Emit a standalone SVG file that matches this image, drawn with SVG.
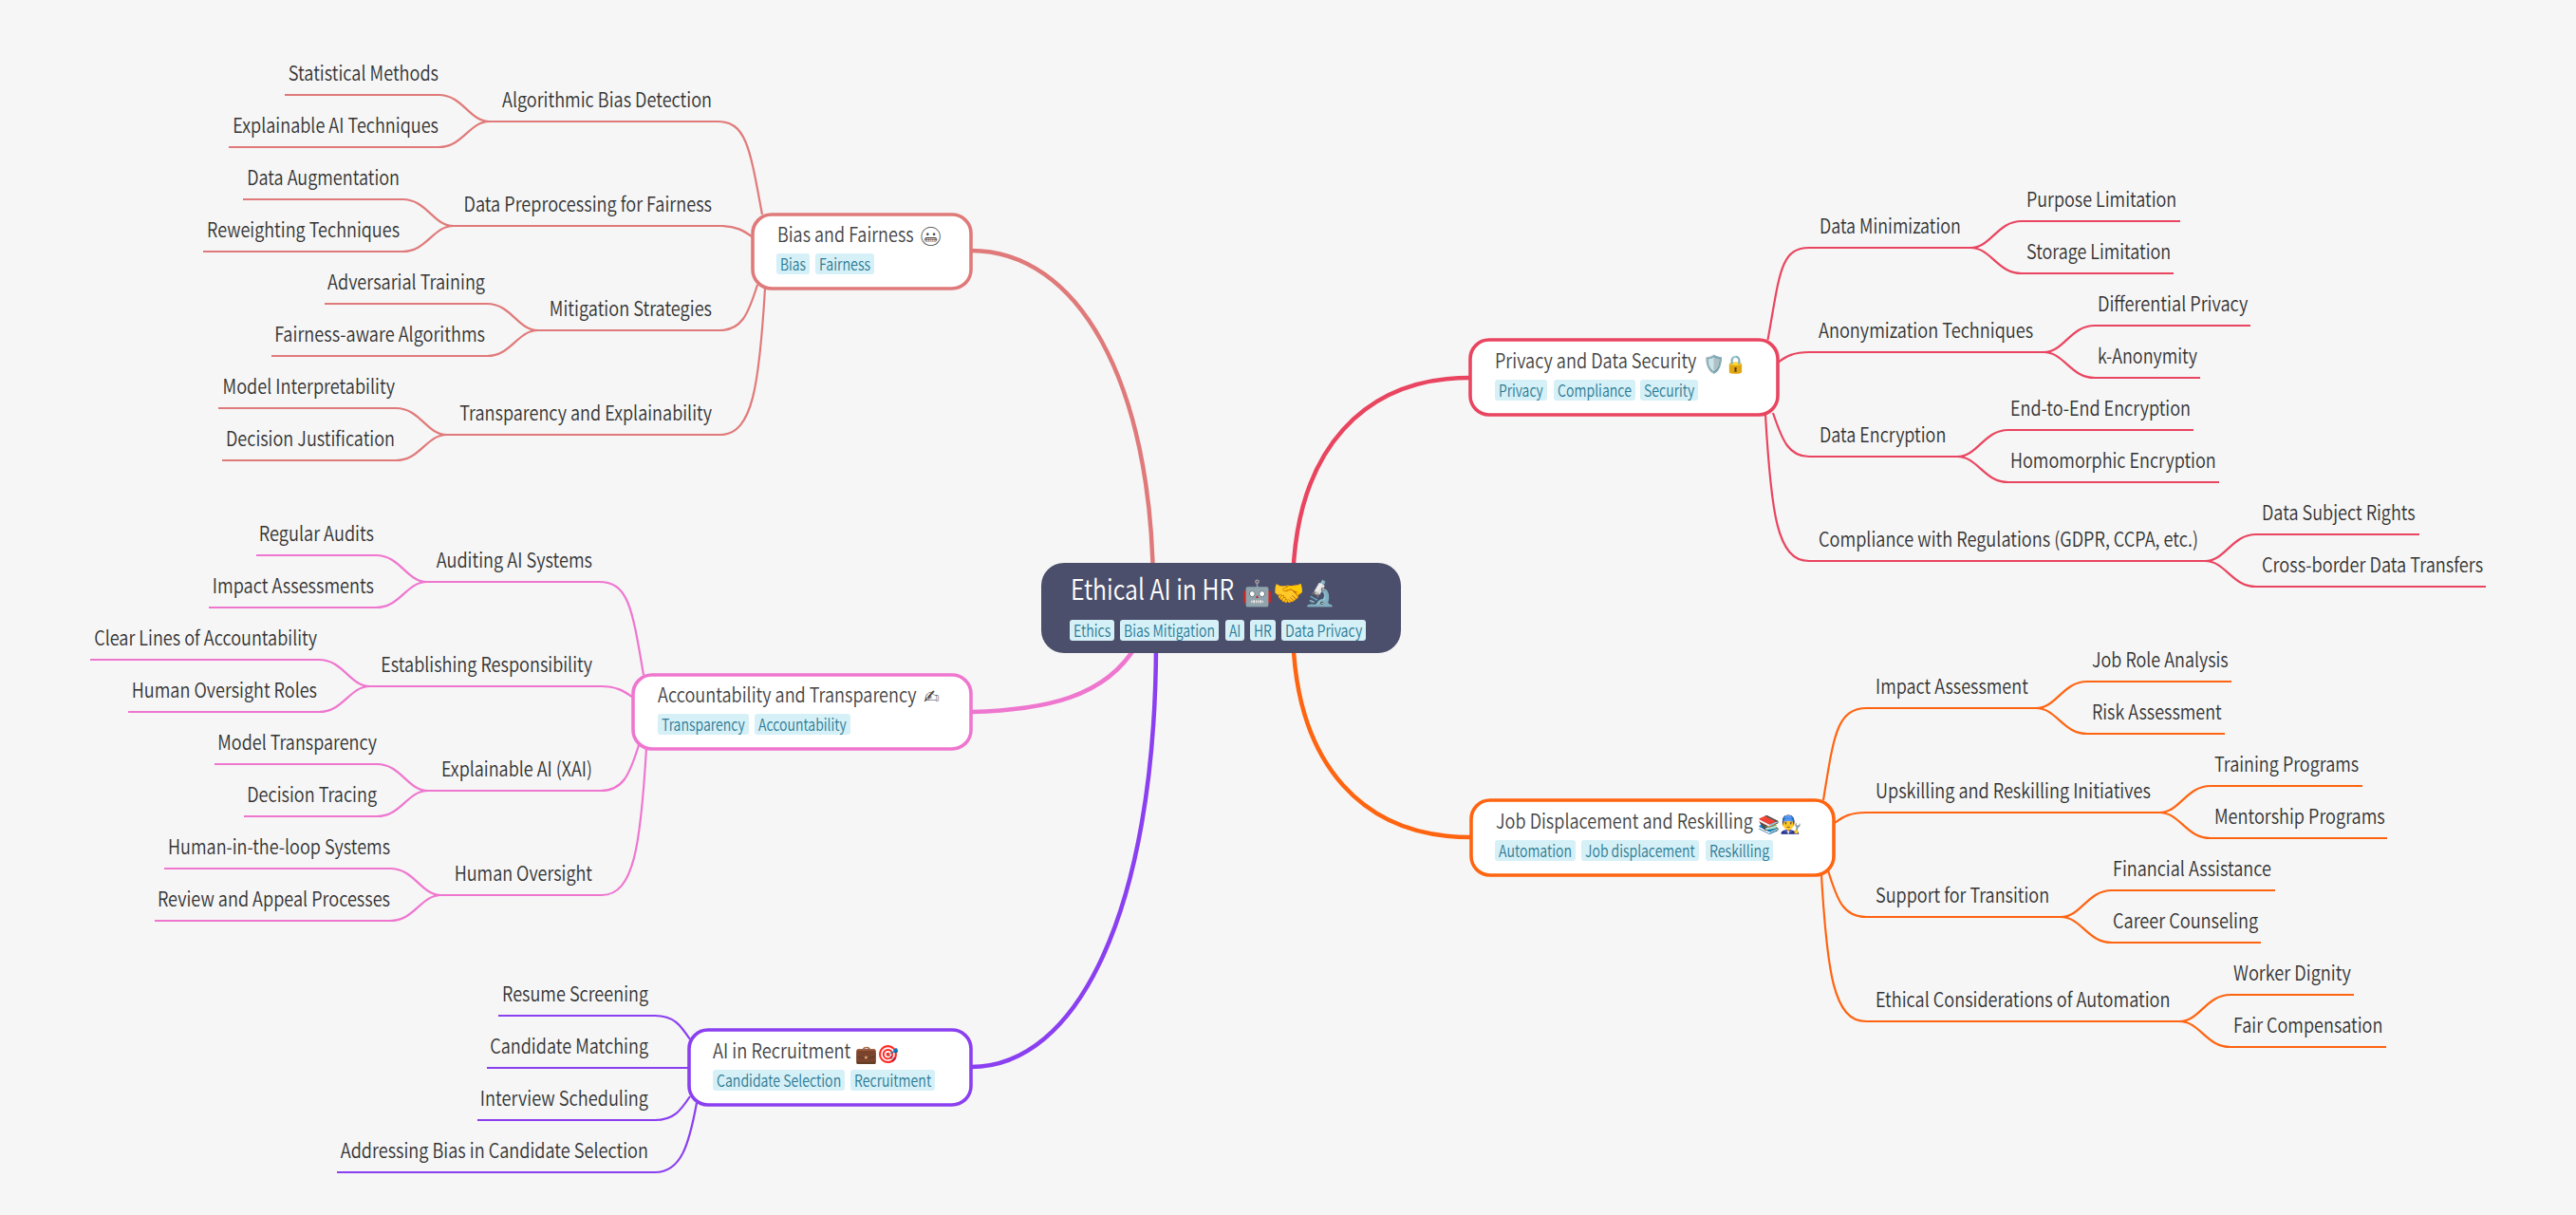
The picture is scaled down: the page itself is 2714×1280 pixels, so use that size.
<svg xmlns="http://www.w3.org/2000/svg" width="2714" height="1280" viewBox="0 0 2714 1280">
<style>
text{font-family:"Noto Sans CJK SC","Noto Sans",sans-serif;}
.t{font-size:21px;fill:#333;font-weight:350;}
.e{text-anchor:end;}
.h{font-size:21px;fill:#444;font-weight:350;}
.rt{font-size:30px;fill:#fff;font-weight:350;}
.tag{fill:#d6f0f7;}
.tt{font-size:17px;fill:#2a7a94;font-weight:350;}
.n{fill:#fff;stroke-width:3.6;}
path{fill:none;}
.l1{stroke-width:4.5;}
.l2{stroke-width:2.2;}
.em{font-size:18.500px;}
.mono{font-family:"DejaVu Sans",sans-serif;font-size:20px;fill:#444;}
.bi{stroke:#e07a7a;} .pr{stroke:#e94560;} .jo{stroke:#ff6411;} .ac{stroke:#ef76cf;} .re{stroke:#8a3ff0;}
</style>
<rect width="2714" height="1280" fill="#f6f6f6"/>
<g id="connectors">
<path class="l1 bi" d="M1023 264C1135 264 1214 400 1215 620"/>
<path class="l1 pr" d="M1549 398C1440 398 1363 470 1362 620"/>
<path class="l1 jo" d="M1549 882C1440 882 1363 810 1362 660"/>
<path class="l1 ac" d="M1023 750C1100 748 1165 735 1197 680"/>
<path class="l1 re" d="M1023 1124C1135 1124 1217 960 1218 680"/>

<g class="l2 pr">
<path d="M1862.500 358C1875 290 1875 261 1906 261L2076 261"/>
<path d="M1873 382C1882 375 1890 371 1906 371L2153 371"/>
<path d="M1868 435C1878 465 1885 481 1906 481L2062 481"/>
<path d="M1860 437C1866 540 1872 591 1906 591L2323 591"/>
<path d="M2076 261C2098 261 2104 233 2130 233L2297 233"/>
<path d="M2076 261C2098 261 2104 288 2130 288L2290 288"/>
<path d="M2153 371C2175 371 2181 343 2207 343L2371 343"/>
<path d="M2153 371C2175 371 2181 398 2207 398L2318 398"/>
<path d="M2062 481C2084 481 2090 453 2116 453L2311 453"/>
<path d="M2062 481C2084 481 2090 508 2116 508L2338 508"/>
<path d="M2323 591C2345 591 2351 563 2377 563L2549 563"/>
<path d="M2323 591C2345 591 2351 618 2377 618L2619 618"/>
</g>
<g class="l2 jo">
<path d="M1921 843C1932 775 1935 746 1967 746L2145 746"/>
<path d="M1933 867C1942 860 1950 856 1966 856L2275 856"/>
<path d="M1926 917C1936 950 1943 966 1966 966L2171 966"/>
<path d="M1919 922C1925 1025 1932 1076 1966 1076L2296 1076"/>
<path d="M2145 746C2167 746 2173 718 2199 718L2351 718"/>
<path d="M2145 746C2167 746 2173 773 2199 773L2344 773"/>
<path d="M2275 856C2297 856 2303 828 2329 828L2489 828"/>
<path d="M2275 856C2297 856 2303 883 2329 883L2515 883"/>
<path d="M2171 966C2193 966 2199 938 2225 938L2397 938"/>
<path d="M2171 966C2193 966 2199 993 2225 993L2382 993"/>
<path d="M2296 1076C2318 1076 2324 1048 2350 1048L2480 1048"/>
<path d="M2296 1076C2318 1076 2324 1103 2350 1103L2514 1103"/>
</g>
<g class="l2 bi">
<path d="M803 226C790 155 786 128 756 128L516 128"/>
<path d="M793 250C784 243 775 238 759 238L478 238"/>
<path d="M798 300C788 332 781 348 758 348L567 348"/>
<path d="M806 304C800 405 793 458 759 458L471 458"/>
<path d="M516 128C494 128 488 100 462 100L300 100"/>
<path d="M516 128C494 128 488 155 462 155L241 155"/>
<path d="M478 238C456 238 450 210 424 210L256 210"/>
<path d="M478 238C456 238 450 265 424 265L214 265"/>
<path d="M567 348C545 348 539 320 513 320L342 320"/>
<path d="M567 348C545 348 539 375 513 375L286 375"/>
<path d="M471 458C449 458 443 430 417 430L230 430"/>
<path d="M471 458C449 458 443 485 417 485L234 485"/>
</g>
<g class="l2 ac">
<path d="M678 711C666 640 662 613 631 613L450 613"/>
<path d="M667 735C658 728 649 723 633 723L390 723"/>
<path d="M673 785C663 817 656 833 633 833L451 833"/>
<path d="M681 788C675 890 668 943 634 943L465 943"/>
<path d="M450 613C428 613 422 585 396 585L270 585"/>
<path d="M450 613C428 613 422 640 396 640L220 640"/>
<path d="M390 723C368 723 362 695 336 695L95 695"/>
<path d="M390 723C368 723 362 750 336 750L135 750"/>
<path d="M451 833C429 833 423 805 397 805L226 805"/>
<path d="M451 833C429 833 423 860 397 860L257 860"/>
<path d="M465 943C443 943 437 915 411 915L173 915"/>
<path d="M465 943C443 943 437 970 411 970L163 970"/>
</g>
<g class="l2 re">
<path d="M727 1095C717 1080 710 1070 690 1070L525 1070"/>
<path d="M727 1125L513 1125"/>
<path d="M727 1155C717 1170 710 1180 690 1180L503 1180"/>
<path d="M734 1162C726 1205 718 1235 690 1235L355 1235"/>
</g>
</g>

<g id="root">
<rect x="1097" y="593" width="379" height="95" rx="24" fill="#4c4f6b"/>
<text class="rt" transform="translate(1128 632) scale(.823 1)" textLength="209" lengthAdjust="spacingAndGlyphs">Ethical AI in HR</text>
<text x="1308" y="634" font-size="26.500">🤖🤝🔬</text>
<rect class="tag" x="1127" y="653" width="47" height="22" rx="3"/><text class="tt" transform="translate(1131 671) scale(.82 1)" textLength="48" lengthAdjust="spacingAndGlyphs">Ethics</text>
<rect class="tag" x="1180" y="653" width="104" height="22" rx="3"/><text class="tt" transform="translate(1184 671) scale(.82 1)" textLength="117" lengthAdjust="spacingAndGlyphs">Bias Mitigation</text>
<rect class="tag" x="1291" y="653" width="20" height="22" rx="3"/><text class="tt" transform="translate(1295 671) scale(.82 1)" textLength="15" lengthAdjust="spacingAndGlyphs">AI</text>
<rect class="tag" x="1317" y="653" width="27" height="22" rx="3"/><text class="tt" transform="translate(1321 671) scale(.82 1)" textLength="23" lengthAdjust="spacingAndGlyphs">HR</text>
<rect class="tag" x="1350" y="653" width="89" height="22" rx="3"/><text class="tt" transform="translate(1354 671) scale(.82 1)" textLength="99" lengthAdjust="spacingAndGlyphs">Data Privacy</text>
</g>

<g id="bias">
<rect class="n bi" x="793" y="226" width="230" height="78" rx="20"/>
<text class="h" transform="translate(819 255) scale(.86 1)" textLength="167" lengthAdjust="spacingAndGlyphs">Bias and Fairness</text>
<text class="mono" x="968" y="256">😬︎</text>
<rect class="tag" x="818" y="267" width="35" height="22" rx="3"/><text class="tt" transform="translate(822 285) scale(.82 1)" textLength="33" lengthAdjust="spacingAndGlyphs">Bias</text>
<rect class="tag" x="859" y="267" width="62" height="22" rx="3"/><text class="tt" transform="translate(863 285) scale(.82 1)" textLength="66" lengthAdjust="spacingAndGlyphs">Fairness</text>
</g>
<g id="privacy">
<rect class="n pr" x="1549" y="358" width="324" height="79" rx="20"/>
<text class="h" transform="translate(1575 388) scale(.86 1)" textLength="247" lengthAdjust="spacingAndGlyphs">Privacy and Data Security</text>
<text class="em" x="1794" y="390">🛡️🔒</text>
<rect class="tag" x="1575" y="400" width="55" height="22" rx="3"/><text class="tt" transform="translate(1579 418) scale(.82 1)" textLength="57" lengthAdjust="spacingAndGlyphs">Privacy</text>
<rect class="tag" x="1637" y="400" width="86" height="22" rx="3"/><text class="tt" transform="translate(1641 418) scale(.82 1)" textLength="95" lengthAdjust="spacingAndGlyphs">Compliance</text>
<rect class="tag" x="1728" y="400" width="61" height="22" rx="3"/><text class="tt" transform="translate(1732 418) scale(.82 1)" textLength="65" lengthAdjust="spacingAndGlyphs">Security</text>
</g>
<g id="job">
<rect class="n jo" x="1550" y="843" width="382" height="79" rx="20"/>
<text class="h" transform="translate(1576 873) scale(.86 1)" textLength="315" lengthAdjust="spacingAndGlyphs">Job Displacement and Reskilling</text>
<text class="em" x="1852" y="875">📚👨‍🔧</text>
<rect class="tag" x="1575" y="885" width="85" height="22" rx="3"/><text class="tt" transform="translate(1579 903) scale(.82 1)" textLength="94" lengthAdjust="spacingAndGlyphs">Automation</text>
<rect class="tag" x="1666" y="885" width="124" height="22" rx="3"/><text class="tt" transform="translate(1670 903) scale(.82 1)" textLength="141" lengthAdjust="spacingAndGlyphs">Job displacement</text>
<rect class="tag" x="1797" y="885" width="71" height="22" rx="3"/><text class="tt" transform="translate(1801 903) scale(.82 1)" textLength="77" lengthAdjust="spacingAndGlyphs">Reskilling</text>
</g>
<g id="accountability">
<rect class="n ac" x="667" y="711" width="356" height="78" rx="20"/>
<text class="h" transform="translate(693 740) scale(.86 1)" textLength="317" lengthAdjust="spacingAndGlyphs">Accountability and Transparency</text>
<text class="mono" x="973" y="741">✍︎</text>
<rect class="tag" x="693" y="752" width="96" height="22" rx="3"/><text class="tt" transform="translate(697 770) scale(.82 1)" textLength="107" lengthAdjust="spacingAndGlyphs">Transparency</text>
<rect class="tag" x="795" y="752" width="101" height="22" rx="3"/><text class="tt" transform="translate(799 770) scale(.82 1)" textLength="113" lengthAdjust="spacingAndGlyphs">Accountability</text>
</g>
<g id="recruitment">
<rect class="n re" x="726" y="1085" width="297" height="79" rx="20"/>
<text class="h" transform="translate(751 1115) scale(.86 1)" textLength="169" lengthAdjust="spacingAndGlyphs">AI in Recruitment</text>
<text class="em" x="901" y="1117">💼🎯</text>
<rect class="tag" x="751" y="1127" width="139" height="22" rx="3"/><text class="tt" transform="translate(755 1145) scale(.82 1)" textLength="160" lengthAdjust="spacingAndGlyphs">Candidate Selection</text>
<rect class="tag" x="896" y="1127" width="89" height="22" rx="3"/><text class="tt" transform="translate(900 1145) scale(.82 1)" textLength="99" lengthAdjust="spacingAndGlyphs">Recruitment</text>
</g>

<g id="privacy-items">
<text class="t" transform="translate(1917 246) scale(.86 1)" textLength="173" lengthAdjust="spacingAndGlyphs">Data Minimization</text>
<text class="t" transform="translate(1916 356) scale(.86 1)" textLength="263" lengthAdjust="spacingAndGlyphs">Anonymization Techniques</text>
<text class="t" transform="translate(1917 466) scale(.86 1)" textLength="155" lengthAdjust="spacingAndGlyphs">Data Encryption</text>
<text class="t" transform="translate(1916 576) scale(.86 1)" textLength="465" lengthAdjust="spacingAndGlyphs">Compliance with Regulations (GDPR, CCPA, etc.)</text>
<text class="t" transform="translate(2135 218) scale(.86 1)" textLength="184" lengthAdjust="spacingAndGlyphs">Purpose Limitation</text>
<text class="t" transform="translate(2135 273) scale(.86 1)" textLength="177" lengthAdjust="spacingAndGlyphs">Storage Limitation</text>
<text class="t" transform="translate(2210 328) scale(.86 1)" textLength="184" lengthAdjust="spacingAndGlyphs">Differential Privacy</text>
<text class="t" transform="translate(2210 383) scale(.86 1)" textLength="122" lengthAdjust="spacingAndGlyphs">k-Anonymity</text>
<text class="t" transform="translate(2118 438) scale(.86 1)" textLength="221" lengthAdjust="spacingAndGlyphs">End-to-End Encryption</text>
<text class="t" transform="translate(2118 493) scale(.86 1)" textLength="252" lengthAdjust="spacingAndGlyphs">Homomorphic Encryption</text>
<text class="t" transform="translate(2383 548) scale(.86 1)" textLength="188" lengthAdjust="spacingAndGlyphs">Data Subject Rights</text>
<text class="t" transform="translate(2383 603) scale(.86 1)" textLength="271" lengthAdjust="spacingAndGlyphs">Cross-border Data Transfers</text>
</g>
<g id="job-items">
<text class="t" transform="translate(1976 731) scale(.86 1)" textLength="187" lengthAdjust="spacingAndGlyphs">Impact Assessment</text>
<text class="t" transform="translate(1976 841) scale(.86 1)" textLength="337" lengthAdjust="spacingAndGlyphs">Upskilling and Reskilling Initiatives</text>
<text class="t" transform="translate(1976 951) scale(.86 1)" textLength="213" lengthAdjust="spacingAndGlyphs">Support for Transition</text>
<text class="t" transform="translate(1976 1061) scale(.86 1)" textLength="361" lengthAdjust="spacingAndGlyphs">Ethical Considerations of Automation</text>
<text class="t" transform="translate(2204 703) scale(.86 1)" textLength="167" lengthAdjust="spacingAndGlyphs">Job Role Analysis</text>
<text class="t" transform="translate(2204 758) scale(.86 1)" textLength="159" lengthAdjust="spacingAndGlyphs">Risk Assessment</text>
<text class="t" transform="translate(2333 813) scale(.86 1)" textLength="177" lengthAdjust="spacingAndGlyphs">Training Programs</text>
<text class="t" transform="translate(2333 868) scale(.86 1)" textLength="209" lengthAdjust="spacingAndGlyphs">Mentorship Programs</text>
<text class="t" transform="translate(2226 923) scale(.86 1)" textLength="194" lengthAdjust="spacingAndGlyphs">Financial Assistance</text>
<text class="t" transform="translate(2226 978) scale(.86 1)" textLength="178" lengthAdjust="spacingAndGlyphs">Career Counseling</text>
<text class="t" transform="translate(2353 1033) scale(.86 1)" textLength="144" lengthAdjust="spacingAndGlyphs">Worker Dignity</text>
<text class="t" transform="translate(2353 1088) scale(.86 1)" textLength="183" lengthAdjust="spacingAndGlyphs">Fair Compensation</text>
</g>
<g id="bias-items">
<text class="t e" transform="translate(750 113) scale(.86 1)" textLength="257" lengthAdjust="spacingAndGlyphs">Algorithmic Bias Detection</text>
<text class="t e" transform="translate(750 223) scale(.86 1)" textLength="304" lengthAdjust="spacingAndGlyphs">Data Preprocessing for Fairness</text>
<text class="t e" transform="translate(750 333) scale(.86 1)" textLength="199" lengthAdjust="spacingAndGlyphs">Mitigation Strategies</text>
<text class="t e" transform="translate(750 443) scale(.86 1)" textLength="309" lengthAdjust="spacingAndGlyphs">Transparency and Explainability</text>
<text class="t e" transform="translate(462 85) scale(.86 1)" textLength="184" lengthAdjust="spacingAndGlyphs">Statistical Methods</text>
<text class="t e" transform="translate(462 140) scale(.86 1)" textLength="252" lengthAdjust="spacingAndGlyphs">Explainable AI Techniques</text>
<text class="t e" transform="translate(421 195) scale(.86 1)" textLength="187" lengthAdjust="spacingAndGlyphs">Data Augmentation</text>
<text class="t e" transform="translate(421 250) scale(.86 1)" textLength="236" lengthAdjust="spacingAndGlyphs">Reweighting Techniques</text>
<text class="t e" transform="translate(511 305) scale(.86 1)" textLength="193" lengthAdjust="spacingAndGlyphs">Adversarial Training</text>
<text class="t e" transform="translate(511 360) scale(.86 1)" textLength="258" lengthAdjust="spacingAndGlyphs">Fairness-aware Algorithms</text>
<text class="t e" transform="translate(416 415) scale(.86 1)" textLength="211" lengthAdjust="spacingAndGlyphs">Model Interpretability</text>
<text class="t e" transform="translate(416 470) scale(.86 1)" textLength="207" lengthAdjust="spacingAndGlyphs">Decision Justification</text>
</g>
<g id="accountability-items">
<text class="t e" transform="translate(624 598) scale(.86 1)" textLength="191" lengthAdjust="spacingAndGlyphs">Auditing AI Systems</text>
<text class="t e" transform="translate(624 708) scale(.86 1)" textLength="259" lengthAdjust="spacingAndGlyphs">Establishing Responsibility</text>
<text class="t e" transform="translate(624 818) scale(.86 1)" textLength="185" lengthAdjust="spacingAndGlyphs">Explainable AI (XAI)</text>
<text class="t e" transform="translate(624 928) scale(.86 1)" textLength="169" lengthAdjust="spacingAndGlyphs">Human Oversight</text>
<text class="t e" transform="translate(394 570) scale(.86 1)" textLength="141" lengthAdjust="spacingAndGlyphs">Regular Audits</text>
<text class="t e" transform="translate(394 625) scale(.86 1)" textLength="198" lengthAdjust="spacingAndGlyphs">Impact Assessments</text>
<text class="t e" transform="translate(334 680) scale(.86 1)" textLength="273" lengthAdjust="spacingAndGlyphs">Clear Lines of Accountability</text>
<text class="t e" transform="translate(334 735) scale(.86 1)" textLength="227" lengthAdjust="spacingAndGlyphs">Human Oversight Roles</text>
<text class="t e" transform="translate(397 790) scale(.86 1)" textLength="195" lengthAdjust="spacingAndGlyphs">Model Transparency</text>
<text class="t e" transform="translate(397 845) scale(.86 1)" textLength="159" lengthAdjust="spacingAndGlyphs">Decision Tracing</text>
<text class="t e" transform="translate(411 900) scale(.86 1)" textLength="272" lengthAdjust="spacingAndGlyphs">Human-in-the-loop Systems</text>
<text class="t e" transform="translate(411 955) scale(.86 1)" textLength="285" lengthAdjust="spacingAndGlyphs">Review and Appeal Processes</text>
</g>
<g id="recruitment-items">
<text class="t e" transform="translate(683 1055) scale(.86 1)" textLength="179" lengthAdjust="spacingAndGlyphs">Resume Screening</text>
<text class="t e" transform="translate(683 1110) scale(.86 1)" textLength="194" lengthAdjust="spacingAndGlyphs">Candidate Matching</text>
<text class="t e" transform="translate(683 1165) scale(.86 1)" textLength="206" lengthAdjust="spacingAndGlyphs">Interview Scheduling</text>
<text class="t e" transform="translate(683 1220) scale(.86 1)" textLength="377" lengthAdjust="spacingAndGlyphs">Addressing Bias in Candidate Selection</text>
</g>
</svg>
